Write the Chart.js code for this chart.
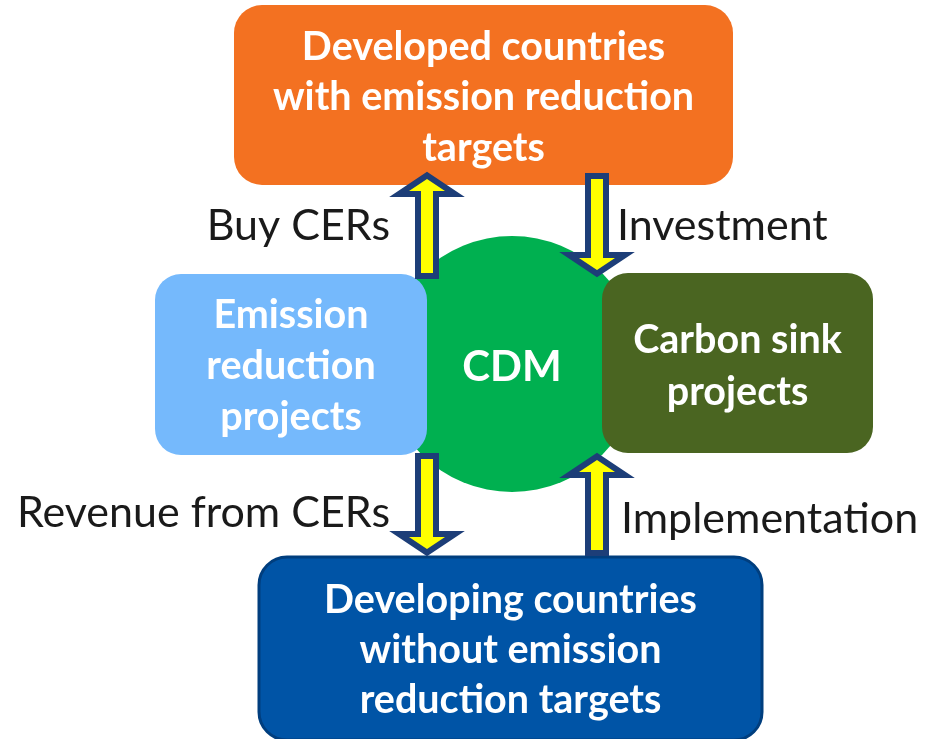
<!DOCTYPE html>
<html>
<head>
<meta charset="utf-8">
<script src="https://cdn.jsdelivr.net/npm/chart.js@4.4.1/dist/chart.umd.min.js"></script>
<style>
  html, body { margin: 0; padding: 0; background: #fff; }
  #wrap { width: 935px; height: 739px; }
</style>
</head>
<body>
<div id="wrap"><canvas id="diagram"></canvas></div>
<script>
// Diagram content
const boxLines = [
    ['Developed countries', 'with emission reduction', 'targets'],
    ['Emission', 'reduction', 'projects'],
    ['Carbon sink', 'projects'],
    ['Developing countries', 'without emission', 'reduction targets']
];
const centerLabel = 'CDM';
const flowLabels = ['Buy CERs', 'Investment', 'Revenue from CERs', 'Implementation'];
const flowDirections = ['up', 'down', 'down', 'up'];

// Layout in chart units (x: 0..935, y: 0..739 top-down)
const boxLayout = [
    { x0: 234, y0: 5, x1: 733, y1: 185, r: 28, fill: '#F37121', stroke: null, lineY: [47, 97, 148] },
    { x0: 155, y0: 274, x1: 427, y1: 455, r: 26, fill: '#75B9FC', stroke: null, lineY: [315, 366, 417] },
    { x0: 602, y0: 273, x1: 873, y1: 453, r: 26, fill: '#4A6521', stroke: null, lineY: [340, 392] },
    { x0: 259, y0: 557, x1: 762, y1: 740, r: 28, fill: '#0054A6', stroke: '#003E7E', lineY: [600, 650, 700] }
];
const circleLayout = { cx: 512, cy: 364, r: 128, fill: '#00B050' };
const arrowLayout = [
    { x: 427, top: 172, bottom: 279 },
    { x: 597, top: 173, bottom: 277 },
    { x: 427, top: 453, bottom: 556 },
    { x: 597, top: 453, bottom: 556 }
];
const labelLayout = [
    { x: 390, y: 226, align: 'right' },
    { x: 617, y: 226, align: 'left' },
    { x: 390, y: 513, align: 'right' },
    { x: 621, y: 519, align: 'left' }
];

const diagramPlugin = {
    id: 'diagram',
    afterDraw(chart) {
        const ctx = chart.ctx;
        const xs = chart.scales.x, ys = chart.scales.y;
        const px = v => xs.getPixelForValue(v);
        const py = v => ys.getPixelForValue(v);

        ctx.save();

        // CDM circle
        ctx.beginPath();
        ctx.arc(px(circleLayout.cx), py(circleLayout.cy), px(circleLayout.r) - px(0), 0, Math.PI * 2);
        ctx.fillStyle = circleLayout.fill;
        ctx.fill();

        // Boxes
        boxLayout.forEach((b, i) => {
            const x0 = px(b.x0), y0 = py(b.y0), x1 = px(b.x1), y1 = py(b.y1);
            ctx.beginPath();
            ctx.roundRect(x0, y0, x1 - x0, y1 - y0, b.r);
            ctx.fillStyle = b.fill;
            ctx.fill();
            if (b.stroke) {
                ctx.lineWidth = 3;
                ctx.strokeStyle = b.stroke;
                ctx.stroke();
            }
            ctx.fillStyle = '#FFFFFF';
            ctx.font = 'bold 39.5px Lato';
            ctx.textAlign = 'center';
            ctx.textBaseline = 'middle';
            const cx = (x0 + x1) / 2;
            boxLines[i].forEach((line, j) => {
                ctx.fillText(line, cx, py(b.lineY[j]));
            });
        });

        // Center label
        ctx.fillStyle = '#FFFFFF';
        ctx.font = 'bold 42px Lato';
        ctx.textAlign = 'center';
        ctx.textBaseline = 'middle';
        ctx.fillText(centerLabel, px(circleLayout.cx), py(circleLayout.cy + 3));

        // Arrows (thick dark outline drawn first, yellow fill on top)
        arrowLayout.forEach((a, i) => {
            const shaftHalf = 6, headHalf = 18, headLen = 12;
            const x = px(a.x), top = py(a.top) + 7, bottom = py(a.bottom) - 7;
            ctx.beginPath();
            if (flowDirections[i] === 'up') {
                ctx.moveTo(x, top);
                ctx.lineTo(x + headHalf, top + headLen);
                ctx.lineTo(x + shaftHalf, top + headLen);
                ctx.lineTo(x + shaftHalf, bottom + 1);
                ctx.lineTo(x - shaftHalf, bottom + 1);
                ctx.lineTo(x - shaftHalf, top + headLen);
                ctx.lineTo(x - headHalf, top + headLen);
            } else {
                ctx.moveTo(x, bottom);
                ctx.lineTo(x + headHalf, bottom - headLen);
                ctx.lineTo(x + shaftHalf, bottom - headLen);
                ctx.lineTo(x + shaftHalf, top - 1);
                ctx.lineTo(x - shaftHalf, top - 1);
                ctx.lineTo(x - shaftHalf, bottom - headLen);
                ctx.lineTo(x - headHalf, bottom - headLen);
            }
            ctx.closePath();
            ctx.lineJoin = 'miter';
            ctx.lineWidth = 12;
            ctx.strokeStyle = '#1D3E78';
            ctx.stroke();
            ctx.fillStyle = '#FFFF00';
            ctx.fill();
        });

        // Flow labels
        ctx.fillStyle = '#1A1A1A';
        ctx.font = '43px Lato';
        ctx.textBaseline = 'middle';
        flowLabels.forEach((t, i) => {
            const l = labelLayout[i];
            ctx.textAlign = l.align;
            ctx.fillText(t, px(l.x), py(l.y));
        });

        ctx.restore();
    }
};

new Chart(document.getElementById('diagram'), {
    type: 'scatter',
    data: { datasets: [{ data: [] }] },
    options: {
        responsive: true,
        maintainAspectRatio: false,
        animation: false,
        layout: { padding: 0 },
        plugins: { legend: { display: false }, tooltip: { enabled: false } },
        scales: {
            x: { type: 'linear', min: 0, max: 935, display: false },
            y: { type: 'linear', min: 0, max: 739, reverse: true, display: false }
        }
    },
    plugins: [diagramPlugin]
});
</script>
</body>
</html>
